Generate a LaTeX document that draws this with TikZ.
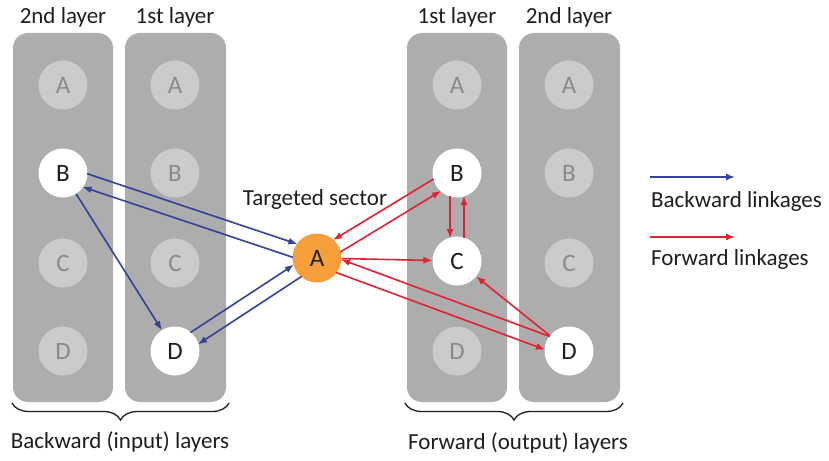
\documentclass[tikz,border=0pt]{standalone}
\usepackage{fontspec}
\setmainfont{Carlito}
\usetikzlibrary{arrows.meta,calc,decorations.pathreplacing}

\definecolor{panelgray}{RGB}{173,173,173}
\definecolor{fadefill}{RGB}{203,203,203}
\definecolor{fadetext}{RGB}{138,138,138}
\definecolor{inkdark}{RGB}{30,30,30}
\definecolor{bluelink}{RGB}{50,66,155}
\definecolor{redlink}{RGB}{228,32,48}
\definecolor{sectororange}{RGB}{245,158,58}

\begin{document}
\begin{tikzpicture}[x=1pt,y=-1pt,
  panel/.style={fill=panelgray, rounded corners=15pt},
  sectorbase/.style={circle, minimum size=49pt, inner sep=0pt,
    font=\fontsize{25}{25}\selectfont},
  faded/.style={sectorbase, fill=fadefill, text=fadetext},
  active/.style={sectorbase, fill=white, text=inkdark},
  target/.style={sectorbase, fill=sectororange, text=inkdark},
  label/.style={text=inkdark, inner sep=0pt, font=\fontsize{23}{27}\selectfont},
  link/.style={line width=1.6pt, -{Latex[length=9pt,width=7pt]}},
  blink/.style={link, draw=bluelink},
  rlink/.style={link, draw=redlink},
  pair/.style={shorten <=23pt, shorten >=23pt},
  brace/.style={decorate, decoration={brace, mirror, amplitude=17pt},
    draw=inkdark, line width=1.3pt},
]
\useasboundingbox (0,0) rectangle (829,460);

% layer panels
\fill[panel] (13,33) rectangle (113,402);
\fill[panel] (125,33) rectangle (226,402);
\fill[panel] (407,33) rectangle (507,402);
\fill[panel] (519,33) rectangle (620,402);

% layer titles
\node[label, anchor=base] (t1) at (63,24) {2nd layer};
\node[label, anchor=base] (t2) at (175,24) {1st layer};
\node[label, anchor=base] (t3) at (457,24) {1st layer};
\node[label, anchor=base] (t4) at (569,24) {2nd layer};

% backward side: 2nd layer
\node[faded]  (LA2) at (63,85)  {A};
\node[active] (LB2) at (63,173) {B};
\node[faded]  (LC2) at (63,263) {C};
\node[faded]  (LD2) at (63,351) {D};
% backward side: 1st layer
\node[faded]  (LA1) at (175,85)  {A};
\node[faded]  (LB1) at (175,173) {B};
\node[faded]  (LC1) at (175,263) {C};
\node[active] (LD1) at (175,351) {D};
% forward side: 1st layer
\node[faded]  (RA1) at (457,85)  {A};
\node[active] (RB1) at (457,173) {B};
\node[active] (RC1) at (457,261) {C};
\node[faded]  (RD1) at (457,351) {D};
% forward side: 2nd layer
\node[faded]  (RA2) at (569,85)  {A};
\node[faded]  (RB2) at (569,173) {B};
\node[faded]  (RC2) at (569,263) {C};
\node[active] (RD2) at (569,351) {D};

% targeted sector
\node[target] (T) at (317,258) {A};
\node[label, anchor=base] (tlab) at (315,205) {Targeted sector};

% backward linkages
\draw[blink, pair] ($(LB2)!7pt!90:(T)$) -- ($(T)!7pt!-90:(LB2)$);
\draw[blink, pair] ($(T)!7pt!90:(LB2)$) -- ($(LB2)!7pt!-90:(T)$);
\draw[blink] (LB2) -- (LD1);
\draw[blink, pair] ($(LD1)!7pt!90:(T)$) -- ($(T)!7pt!-90:(LD1)$);
\draw[blink, pair] ($(T)!7pt!90:(LD1)$) -- ($(LD1)!7pt!-90:(T)$);

% forward linkages
\draw[rlink, pair] ($(RB1)!7pt!-90:(T)$) -- ($(T)!7pt!90:(RB1)$);
\draw[rlink, pair] ($(T)!7pt!-90:(RB1)$) -- ($(RB1)!7pt!90:(T)$);
\draw[rlink] (T) -- (RC1);
\draw[rlink, pair] ($(RB1)!7pt!-90:(RC1)$) -- ($(RC1)!7pt!90:(RB1)$);
\draw[rlink, pair] ($(RC1)!7pt!-90:(RB1)$) -- ($(RB1)!7pt!90:(RC1)$);
\draw[rlink, pair] ($(RD2)!7pt!-90:(T)$) -- ($(T)!7pt!90:(RD2)$);
\draw[rlink, pair] ($(T)!7pt!-90:(RD2)$) -- ($(RD2)!7pt!90:(T)$);
\draw[rlink] (RD2) -- (RC1);

% braces and group captions
\coordinate (bl1) at (12,403);
\coordinate (bl2) at (229,403);
\coordinate (br1) at (405,403);
\coordinate (br2) at (623,403);
\draw[brace] (bl1) -- (bl2);
\draw[brace] (br1) -- (br2);
\node[label, anchor=base] (gl) at (120,448) {Backward (input) layers};
\node[label, anchor=base] (gr) at (518,449) {Forward (output) layers};

% legend
\coordinate (lb1) at (650,177);
\coordinate (lb2) at (735,177);
\coordinate (lr1) at (650,237);
\coordinate (lr2) at (735,237);
\draw[blink] (lb1) -- (lb2);
\draw[rlink] (lr1) -- (lr2);
\node[label, anchor=base west] (lbt) at (651,207) {Backward linkages};
\node[label, anchor=base west] (lrt) at (651,265) {Forward linkages};
\end{tikzpicture}
\end{document}
